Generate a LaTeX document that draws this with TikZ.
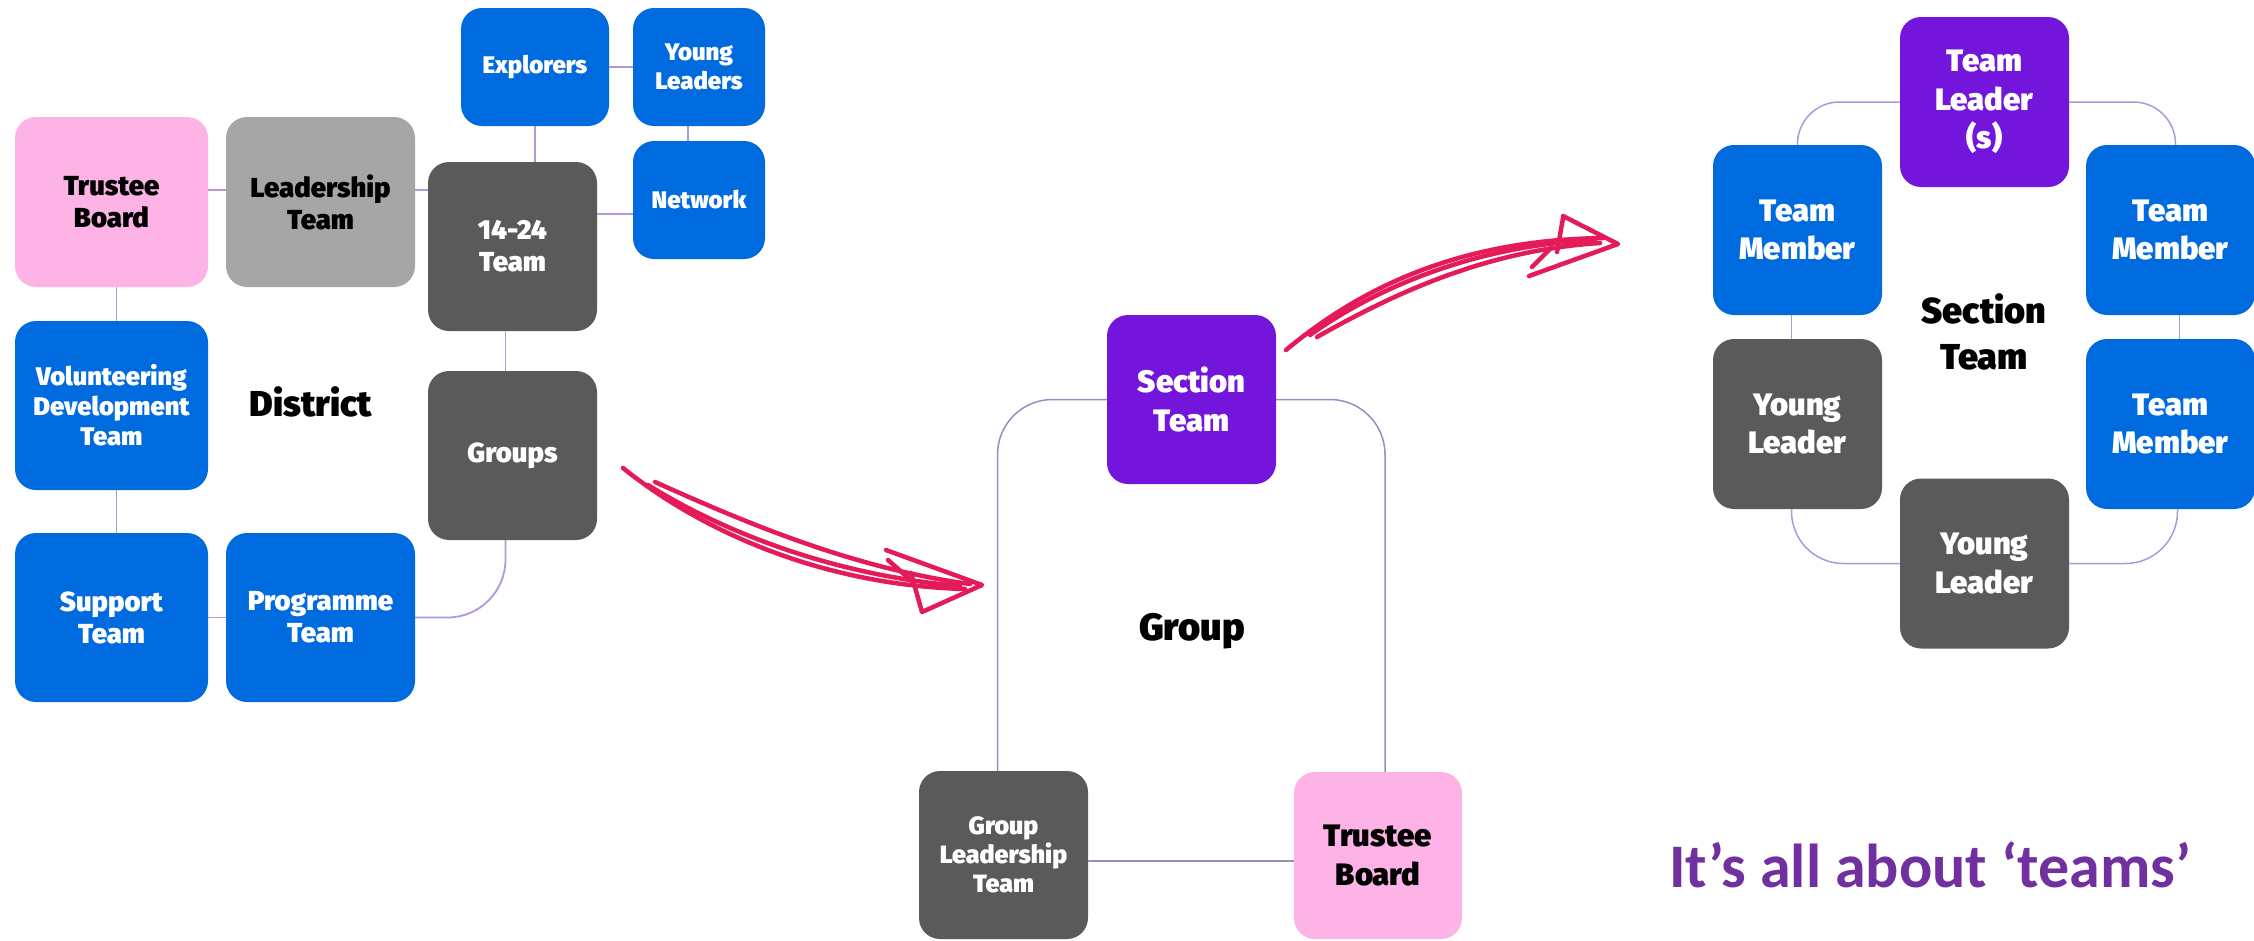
\documentclass[tikz,border=0pt]{standalone}
\usepackage{fontspec}
\setmainfont{Fira Sans}[BoldFont={Fira Sans Black}]
\newfontfamily\tagfont{Carlito}
\definecolor{sblue}{HTML}{006BDF}
\definecolor{sdark}{HTML}{5A5A5A}
\definecolor{sgrey}{HTML}{A6A6A6}
\definecolor{spink}{HTML}{FDB3E6}
\definecolor{spurple}{HTML}{7415DB}
\definecolor{linkc}{HTML}{B196DA}
\definecolor{outlinec}{HTML}{9C8AC0}
\definecolor{arrowc}{HTML}{E51B59}
\definecolor{tagc}{HTML}{7030A0}
\begin{document}
\begin{tikzpicture}[x=1pt,y=-1pt,
  box/.style={rounded corners=21pt, inner sep=0pt, align=center, text=white,
    font=\bfseries\fontsize{27.5}{32}\selectfont},
  smalltext/.style={font=\bfseries\fontsize{24}{29}\selectfont},
  bigtext/.style={font=\bfseries\fontsize{31}{38.5}\selectfont},
  bluebox/.style={box, fill=sblue},
  darkbox/.style={box, fill=sdark},
  greybox/.style={box, fill=sgrey, text=black},
  pinkbox/.style={box, fill=spink, text=black},
  purplebox/.style={box, fill=spurple},
  sz/.style 2 args={minimum width=#1pt, minimum height=#2pt},
  link/.style={draw=linkc, line width=1.8pt},
  outline/.style={draw=outlinec, line width=1.5pt},
  label/.style={inner sep=0pt, text=black, font=\bfseries\fontsize{36}{46}\selectfont, align=center},
  sketch/.style={draw=arrowc, line width=4.5pt, line cap=round, line join=round}
]
\useasboundingbox (0,0) rectangle (2254,940);
\fill[white] (0,0) rectangle (2254,940);

% ---------- District ----------
\node[pinkbox, sz={193}{170}] (tb) at (111.5,202) {Trustee\\Board};
\node[greybox, sz={189}{170}] (lt) at (320.5,202) {Leadership\\Team};
\node[darkbox, sz={169}{169}] (t1424) at (512.5,246.5) {14-24\\Team};
\node[darkbox, sz={169}{169}] (groups) at (512.5,455.5) {Groups};
\node[bluebox, smalltext, sz={148}{118}] (exp) at (535,67) {Explorers};
\node[bluebox, smalltext, sz={132}{118}] (yl) at (699,67) {Young\\Leaders};
\node[bluebox, smalltext, sz={132}{118}] (net) at (699,200) {Network};
\node[bluebox, font=\bfseries\fontsize{25.5}{30}\selectfont, sz={193}{169}] (vdt) at (111.5,405.5) {Volunteering\\Development\\Team};
\node[bluebox, sz={193}{169}] (sup) at (111.5,617.5) {Support\\Team};
\node[bluebox, sz={189}{169}] (prog) at (320.5,617.5) {Programme\\Team};
\node[label] (district) at (311,402) {District};

\draw[link] ([yshift=12pt]tb.east) -- ([yshift=12pt]lt.west);
\draw[link] ([yshift=12pt]lt.east) -- ([yshift=12pt]lt.east -| t1424.west);
\draw[link] (exp.south) -- (exp.south |- t1424.north);
\draw[link] (exp.east) -- (yl.west);
\draw[link] ([xshift=-11pt]yl.south) -- ([xshift=-11pt]net.north);
\draw[link] ([yshift=-14pt]net.west) -- ([yshift=-14pt]net.west -| t1424.east);
\draw[link] ([xshift=-7pt]t1424.south) -- ([xshift=-7pt]groups.north);
\draw[link] ([xshift=5pt]tb.south) -- ([xshift=5pt]vdt.north);
\draw[link] ([xshift=5pt]vdt.south) -- ([xshift=5pt]sup.north);
\draw[link] (sup.east) -- (prog.west);
\draw[link, rounded corners=58pt] ([xshift=-7pt]groups.south) |- (prog.east);

% ---------- Group ----------
\node[purplebox, bigtext, sz={169}{169}] (st) at (1191.5,399.5) {Section\\Team};
\node[darkbox, font=\bfseries\fontsize{25}{29}\selectfont, sz={169}{168}] (glt) at (1003.5,855) {Group\\Leadership\\Team};
\node[pinkbox, bigtext, sz={168}{167}] (tbm) at (1378,855.5) {Trustee\\Board};
\node[label, font=\bfseries\fontsize{38}{46}\selectfont] (group) at (1192,631) {Group};

\draw[outline, rounded corners=55pt] (st.west) -| ([xshift=-6pt]glt.north);
\draw[outline, rounded corners=55pt] (st.east) -| ([xshift=7pt]tbm.north);
\draw[outline] ([yshift=-6pt]glt.east) -- ([yshift=-6pt]glt.east -| tbm.west);

% ---------- Section team ----------
\node[purplebox, bigtext, sz={169}{170}] (tl) at (1984.5,102) {Team\\Leader\\(s)};
\node[bluebox, bigtext, sz={169}{170}] (tml) at (1797.5,230) {Team\\Member};
\node[bluebox, bigtext, sz={169}{170}] (tmr1) at (2170.5,230) {Team\\Member};
\node[bluebox, bigtext, sz={169}{170}] (tmr2) at (2170.5,424) {Team\\Member};
\node[darkbox, bigtext, sz={169}{170}] (yll) at (1797.5,424) {Young\\Leader};
\node[darkbox, bigtext, sz={169}{170}] (ylb) at (1984.5,563.5) {Young\\Leader};
\node[label] (stlabel) at (1984,332) {Section\\Team};

\draw[link, line width=1.5pt, rounded corners=42pt] (tl.west) -| (tml.north);
\draw[link, line width=1.5pt, rounded corners=42pt] (tl.east) -| ([xshift=5pt]tmr1.north);
\draw[link, line width=1.5pt] ([xshift=-6pt]tml.south) -- ([xshift=-6pt]yll.north);
\draw[link, line width=1.5pt] ([xshift=9pt]tmr1.south) -- ([xshift=9pt]tmr2.north);
\draw[link, line width=1.5pt, rounded corners=52pt] ([xshift=-6pt]yll.south) |- (ylb.west);
\draw[link, line width=1.5pt, rounded corners=52pt] ([xshift=7pt]tmr2.south) |- (ylb.east);

% ---------- Hand-drawn arrows ----------
\coordinate (a1s) at (623,468);
\coordinate (a1t) at (982,585);
\draw[sketch] (a1s) .. controls (700,530) and (820,585) .. (965,589);
\draw[sketch] (648,485) .. controls (720,530) and (830,575) .. (960,586);
\draw[sketch] (655,482) .. controls (740,520) and (850,568) .. (970,584);
\draw[sketch] (886,550) -- (a1t) -- (922,612) -- (911,573);
\draw[sketch] (888,560) -- (914,583);

\coordinate (a2s) at (1286,350);
\coordinate (a2t) at (1618,244);
\draw[sketch] (a2s) .. controls (1370,280) and (1470,240) .. (1603,238);
\draw[sketch] (1317,337) .. controls (1400,290) and (1490,250) .. (1600,243);
\draw[sketch] (1310,335) .. controls (1380,285) and (1480,245) .. (1595,240);
\draw[sketch] (1563,216) -- (a2t) -- (1529,276);
\draw[sketch] (1563,218) -- (1557,252);
\draw[sketch] (1532,267) -- (1552,247);

% ---------- Tagline ----------
\node[anchor=base, inner sep=0pt, text=tagc, font=\tagfont\bfseries\fontsize{62}{70}\selectfont] (tag) at (1930,887) {It’s all about ‘teams’};
\end{tikzpicture}
\end{document}
